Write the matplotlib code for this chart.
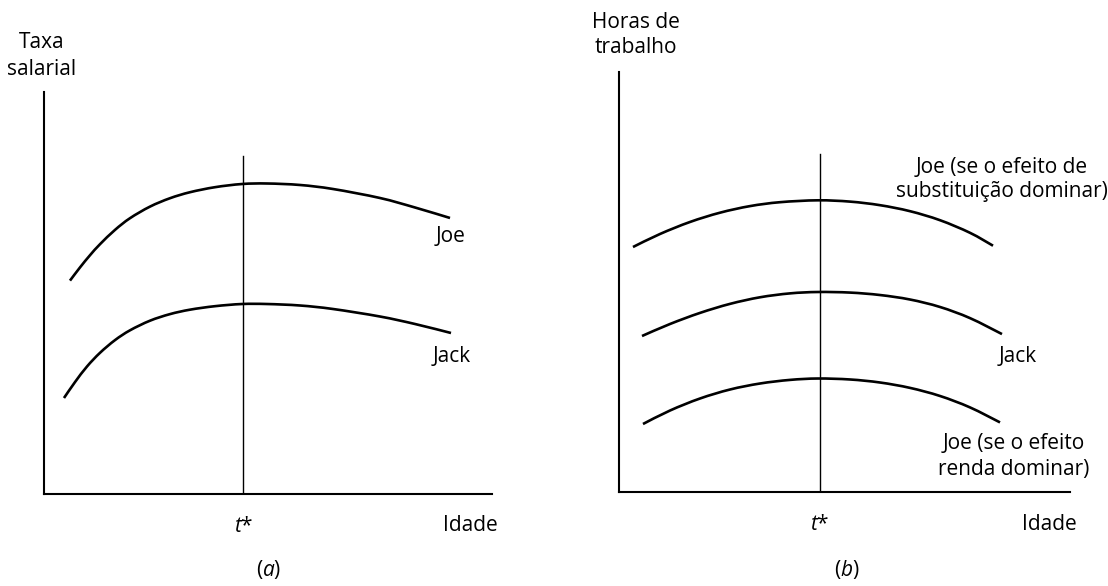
import matplotlib
matplotlib.use("Agg")
import matplotlib.pyplot as plt
from matplotlib.path import Path
from matplotlib.patches import PathPatch

plt.rcParams["font.family"] = ["Open Sans", "DejaVu Sans"]
plt.rcParams["mathtext.fontset"] = "custom"
plt.rcParams["mathtext.rm"] = "Open Sans"
plt.rcParams["mathtext.it"] = "Open Sans:italic"

# Panel (a): wage rate over age
age_a_joe = [5.80, 8.04, 10.27, 12.50, 15.85, 19.20, 23.66, 28.13, 32.59, 38.17,
             44.20, 49.78, 57.14, 64.51, 75.00, 82.81, 90.63]
wage_joe = [53.08, 56.37, 59.40, 62.14, 65.70, 68.61, 71.49, 73.58, 75.07, 76.32,
            77.11, 77.24, 76.87, 75.87, 73.63, 71.27, 68.66]
age_a_jack = [4.46, 6.92, 9.60, 12.50, 15.85, 19.20, 23.66, 28.13, 32.59, 38.17,
              44.20, 49.78, 57.14, 64.51, 75.00, 82.81, 90.85]
wage_jack = [23.88, 27.84, 31.72, 35.12, 38.28, 40.72, 43.11, 44.75, 45.85, 46.72,
             47.26, 47.26, 46.89, 46.02, 44.15, 42.29, 40.05]

# Panel (b): hours worked over age
age_b_sub = [3.10, 9.09, 15.74, 22.39, 29.05, 35.70, 44.12, 51.22, 57.87, 64.52,
             71.18, 77.83, 82.93]
hours_joe_sub = [58.33, 61.43, 64.29, 66.50, 68.07, 69.00, 69.45, 69.14, 68.29, 66.86,
                 64.71, 61.71, 58.64]
age_b_jack = [5.10, 11.31, 17.96, 24.61, 31.26, 37.92, 44.12, 51.22, 57.87, 64.52,
              71.18, 77.83, 84.92]
hours_jack = [37.14, 40.00, 42.64, 44.79, 46.36, 47.29, 47.62, 47.48, 46.90, 45.83,
              44.05, 41.40, 37.60]
age_b_inc = [5.32, 11.31, 17.96, 24.61, 31.26, 37.92, 44.12, 51.22, 57.87, 64.52,
             71.18, 77.83, 84.48]
hours_joe_inc = [16.19, 19.40, 22.26, 24.40, 25.83, 26.69, 27.02, 26.79, 26.07, 24.79,
                 22.86, 20.14, 16.57]

t_star = 44.5

W, H = 1108, 586
fig = plt.figure(figsize=(W / 100, H / 100), dpi=100)
fig.patch.set_facecolor("white")


def px_axes(x0, x1, y_top, y_bot):
    return fig.add_axes([x0 / W, (H - y_bot) / H, (x1 - x0) / W, (y_bot - y_top) / H])


def style(ax):
    ax.set_xlim(0, 100)
    ax.set_ylim(0, 100)
    for s in ("top", "right"):
        ax.spines[s].set_visible(False)
    for s in ("left", "bottom"):
        ax.spines[s].set_linewidth(1.5)
        ax.spines[s].set_color("black")
    ax.set_xticks([])
    ax.set_yticks([])
    ax.patch.set_alpha(0)


def smooth_curve(ax, xs, ys, lw=1.9):
    """Draw a smooth stroke through the given points (Catmull-Rom as cubic Bezier)."""
    pts = list(zip(xs, ys))
    verts = [pts[0]]
    codes = [Path.MOVETO]
    n = len(pts)
    for i in range(n - 1):
        p0 = pts[i - 1] if i > 0 else pts[i]
        p1 = pts[i]
        p2 = pts[i + 1]
        p3 = pts[i + 2] if i + 2 < n else pts[i + 1]
        c1 = (p1[0] + (p2[0] - p0[0]) / 6.0, p1[1] + (p2[1] - p0[1]) / 6.0)
        c2 = (p2[0] - (p3[0] - p1[0]) / 6.0, p2[1] - (p3[1] - p1[1]) / 6.0)
        verts += [c1, c2, p2]
        codes += [Path.CURVE4] * 3
    patch = PathPatch(Path(verts, codes), facecolor="none", edgecolor="black",
                      lw=lw, capstyle="butt", joinstyle="round")
    ax.add_patch(patch)


FS = 15
txt_kw = dict(fontsize=FS, ha="center", va="baseline", clip_on=False, color="black")

# ---- panel (a)
ax1 = px_axes(44, 492, 92, 494)
style(ax1)
smooth_curve(ax1, age_a_joe, wage_joe)
smooth_curve(ax1, age_a_jack, wage_jack)
ax1.plot([t_star, t_star], [0, 84.1], color="black", lw=1.0)
ax1.text(-0.5, 110.9, "Taxa", **txt_kw)
ax1.text(-0.5, 104.2, "salarial", **txt_kw)
ax1.text(90.8, 62.7, "Joe", **txt_kw)
ax1.text(91.1, 32.8, "Jack", **txt_kw)
ax1.text(t_star, -9.4, "$t$*", **txt_kw)
ax1.text(95.2, -9.2, "Idade", **txt_kw)
ax1.text(50.2, -20.4, "($a$)", **txt_kw)

# ---- panel (b)
ax2 = px_axes(619, 1070, 72, 492)
style(ax2)
smooth_curve(ax2, age_b_sub, hours_joe_sub)
smooth_curve(ax2, age_b_jack, hours_jack)
smooth_curve(ax2, age_b_inc, hours_joe_inc)
ax2.plot([t_star, t_star], [0, 80.5], color="black", lw=1.0)
ax2.text(3.8, 110.5, "Horas de", **txt_kw)
ax2.text(3.8, 104.5, "trabalho", **txt_kw)
ax2.text(84.9, 75.9, "Joe (se o efeito de", **txt_kw)
ax2.text(84.9, 70.2, "substituição dominar)", **txt_kw)
ax2.text(88.3, 31.0, "Jack", **txt_kw)
ax2.text(87.6, 10.2, "Joe (se o efeito", **txt_kw)
ax2.text(87.6, 4.0, "renda dominar)", **txt_kw)
ax2.text(t_star, -9.0, "$t$*", **txt_kw)
ax2.text(95.5, -9.0, "Idade", **txt_kw)
ax2.text(50.5, -20.0, "($b$)", **txt_kw)

fig.savefig("out.png", dpi=100, facecolor="white")
